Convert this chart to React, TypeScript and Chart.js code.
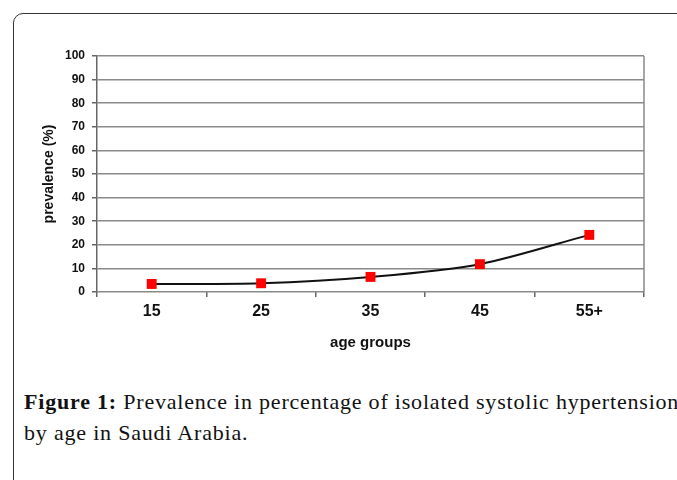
import React, { useEffect, useRef } from 'react';
import { Chart, registerables } from 'chart.js';

Chart.register(...registerables);

const categories = ['15', '25', '35', '45', '55+'];
const prevalence = [3.4, 3.7, 6.4, 11.8, 24.2];
const yMin = 0;
const yMax = 100;
const yStep = 10;
const xTitle = 'age groups';
const yTitle = 'prevalence (%)';

const plotRightBorder = {
  id: 'plotRightBorder',
  afterDraw(chart: any) {
    const { ctx, chartArea } = chart;
    ctx.save();
    ctx.strokeStyle = '#8a8a8a';
    ctx.lineWidth = 1.5;
    ctx.beginPath();
    ctx.moveTo(chartArea.right, chartArea.top);
    ctx.lineTo(chartArea.right, chartArea.bottom);
    ctx.stroke();
    ctx.restore();
  },
};

export default function App() {
  const ref = useRef<HTMLCanvasElement>(null);

  useEffect(() => {
    if (!ref.current) return;
    const font = 'Liberation Sans, Arial, sans-serif';
    const chart = new Chart(ref.current, {
      type: 'line',
      data: {
        labels: categories,
        datasets: [
          {
            data: prevalence,
            borderColor: '#111',
            borderWidth: 2,
            tension: 0.3,
            pointStyle: 'rect',
            pointRadius: 7,
            pointBackgroundColor: '#ff0000',
            pointBorderColor: '#ff0000',
            pointBorderWidth: 0,
          },
        ],
      },
      options: {
        responsive: false,
        animation: false,
        layout: { padding: { left: 37, top: 56, right: 33, bottom: 4 } },
        plugins: { legend: { display: false }, tooltip: { enabled: false } },
        scales: {
          x: {
            type: 'category',
            offset: true,
            grid: {
              offset: true,
              drawOnChartArea: false,
              drawTicks: true,
              tickLength: 5,
              tickColor: '#666',
              lineWidth: 1.5,
            },
            border: { display: false },
            ticks: {
              font: { family: font, size: 16, weight: 'bold' },
              color: '#111',
              padding: 5,
            },
            title: {
              display: true,
              text: xTitle,
              font: { family: font, size: 15, weight: 'bold' },
              color: '#111',
              padding: { top: 4, bottom: 4 },
            },
            afterFit: (s: any) => {
              s.height = 64;
            },
          },
          y: {
            min: yMin,
            max: yMax,
            ticks: {
              stepSize: yStep,
              font: { family: font, size: 12, weight: 'bold' },
              color: '#111',
              padding: 7,
            },
            grid: {
              color: '#8a8a8a',
              lineWidth: 1.5,
              tickLength: 5,
              tickColor: '#666',
            },
            border: { color: '#666', width: 1.5 },
            title: {
              display: true,
              text: yTitle,
              font: { family: font, size: 14, weight: 'bold' },
              color: '#111',
              padding: { top: 4, bottom: 4 },
            },
            afterFit: (s: any) => {
              s.width = 60;
            },
          },
        },
      },
      plugins: [plotRightBorder],
    });
    return () => chart.destroy();
  }, []);

  return (
    <div style={{ position: 'fixed', inset: 0, overflow: 'hidden', background: '#fff' }}>
      <div
        style={{
          position: 'absolute',
          left: 13,
          top: 13,
          width: 720,
          height: 520,
          border: '1.5px solid #333',
          borderTopLeftRadius: 10,
          boxSizing: 'border-box',
        }}
      />
      <canvas
        ref={ref}
        width={677}
        height={360}
        style={{ position: 'absolute', left: 0, top: 0, width: 677, height: 360 }}
      />
      <div
        style={{
          position: 'absolute',
          left: 24,
          top: 386,
          fontFamily: '"Liberation Serif", "Times New Roman", serif',
          fontSize: 22,
          lineHeight: '31px',
          letterSpacing: '0.8px',
          color: '#111',
          whiteSpace: 'nowrap',
        }}
      >
        <b>Figure 1:</b> Prevalence in percentage of isolated systolic hypertension
        <br />
        by age in Saudi Arabia.
      </div>
    </div>
  );
}
